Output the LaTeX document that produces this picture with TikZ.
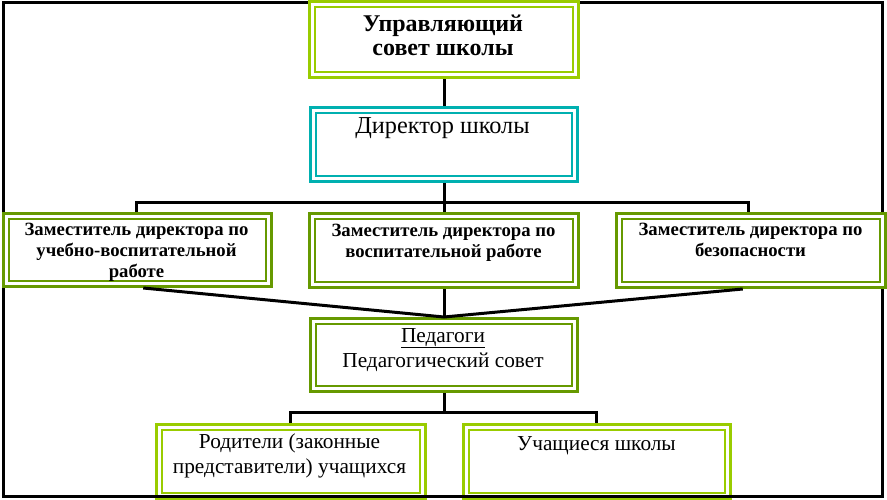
\documentclass[tikz,border=0pt]{standalone}
\usepackage{fontspec}
\setmainfont{Liberation Serif}
\usetikzlibrary{calc}
\definecolor{boxlime}{RGB}{153,204,0}
\definecolor{boxolive}{RGB}{102,153,0}
\definecolor{boxteal}{RGB}{0,176,176}
\tikzset{
  dbox/.style={draw=#1, line width=3pt, fill=white, inner sep=0pt,
    path picture={\draw[#1, line width=2pt]
      ([shift={(5.5pt,-5.5pt)}]path picture bounding box.north west) rectangle
      ([shift={(-5.5pt,5.5pt)}]path picture bounding box.south east);}},
  conn/.style={draw=black, line width=3pt},
  txt/.style={inner sep=0pt, align=center, anchor=base},
  big/.style={font=\fontsize{24}{24}\selectfont\bfseries},
  mid/.style={font=\fontsize{24.3}{26}\selectfont},
  dep/.style={font=\fontsize{18.7}{21}\selectfont\bfseries},
  reg/.style={font=\fontsize{21.3}{25}\selectfont}
}
\begin{document}
\begin{tikzpicture}[x=1pt,y=-1pt]
\useasboundingbox (0,0) rectangle (887,499);
\draw[line width=3pt] (3.3,2.3) rectangle (882.3,496.5);
% boxes
\node[dbox=boxlime, minimum width=269pt, minimum height=76pt] (top) at (444,39.5) {};
\node[dbox=boxteal, minimum width=267.5pt, minimum height=74pt] (dir) at (444,144.5) {};
\node[dbox=boxolive, minimum width=267.5pt, minimum height=73pt] (dl) at (137.25,250) {};
\node[dbox=boxolive, minimum width=269.5pt, minimum height=74pt] (dc) at (444,250.5) {};
\node[dbox=boxolive, minimum width=268.5pt, minimum height=74pt] (dr) at (750.75,250.5) {};
\node[dbox=boxolive, minimum width=266.5pt, minimum height=73pt] (ped) at (444,355) {};
\node[dbox=boxlime, minimum width=268.5pt, minimum height=74pt] (bl) at (290.75,461.5) {};
\node[dbox=boxlime, minimum width=266.5pt, minimum height=74pt] (br) at (596.75,461.5) {};
% connectors
\coordinate (b1) at (444,202);
\coordinate (b2) at (444,412.5);
\draw[conn] (top.south) -- (dir.north);
\draw[conn] (dir.south) -- (dc.north);
\draw[conn] ([xshift=-1pt]dl.north) |- (b1) -| ([xshift=-2.5pt]dr.north);
\draw[conn] ([xshift=6pt]dl.south) -- (ped.north) -- ([xshift=-8pt]dr.south);
\draw[conn] (dc.south) -- (ped.north);
\draw[conn] (ped.south) -- (b2);
\draw[conn] ([xshift=-0.75pt]bl.north) |- (b2) -| (br.north);
% texts
\node[txt, big] (topT) at (443,55) {Управляющий\\совет школы};
\node[txt, mid] (dirT) at (442.5,133) {Директор школы};
\node[txt, dep] (dlT) at (136.5,277) {Заместитель директора по\\учебно-воспитательной\\работе};
\node[txt, dep] (dcT) at (443.5,257) {Заместитель директора по\\воспитательной работе};
\node[txt, dep] (drT) at (750.5,256) {Заместитель директора по\\безопасности};
\node[txt, reg] (pedT) at (443,367) {\underline{Педагоги}\\Педагогический совет};
\node[txt, reg] (blT) at (289.5,473) {Родители (законные\\представители) учащихся};
\node[txt, reg] (brT) at (596.5,450) {Учащиеся школы};
\draw[line width=3pt] (1.8,496.5) -- (883.8,496.5);
\end{tikzpicture}
\end{document}
